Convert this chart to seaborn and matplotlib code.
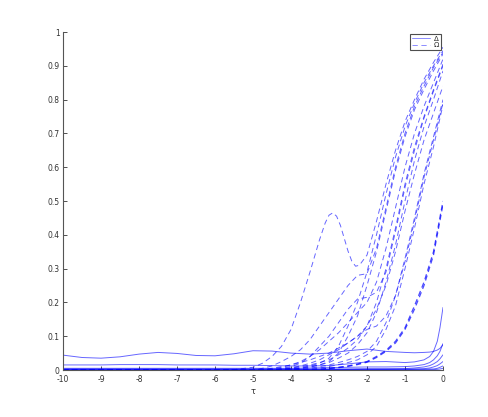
import matplotlib
matplotlib.use("Agg")
import matplotlib.pyplot as plt
from matplotlib.lines import Line2D
import seaborn as sns
import pandas as pd

# ---------------- data ----------------
TAU_D = [-10, -6, -5.5, -5, -4.75, -4.5, -4.25, -4, -3.75, -3.5, -3.25, -3,
         -2.75, -2.5, -2.25, -2, -1.75, -1.5, -1.25, -1, -0.75, -0.5, -0.25, 0]

TAU_P = [-10, -6, -5.5, -5, -4.75, -4.5, -4.25, -4, -3.75, -3.5, -3.25, -3.1,
         -3, -2.9, -2.8, -2.7, -2.6, -2.5, -2.4, -2.3, -2.2, -2, -1.75, -1.5,
         -1.25, -1, -0.75, -0.5, -0.25, 0]
OMEGA_P = [0, 0, 0.001, 0.008, 0.02, 0.04, 0.07, 0.12, 0.2, 0.29, 0.385, 0.435,
           0.458, 0.465, 0.455, 0.428, 0.39, 0.352, 0.322, 0.307, 0.31, 0.34,
           0.44, 0.55, 0.65, 0.735, 0.80, 0.86, 0.91, 0.955]

OMEGA_A2 = [0, 0, 0, 0, 0, 0.001, 0.002, 0.004, 0.007, 0.012, 0.02, 0.035,
            0.07, 0.13, 0.2, 0.29, 0.4, 0.52, 0.63, 0.72, 0.79, 0.85, 0.9, 0.945]
OMEGA_A3 = [0, 0, 0, 0, 0, 0, 0.001, 0.003, 0.005, 0.008, 0.015, 0.025,
            0.05, 0.1, 0.16, 0.25, 0.35, 0.47, 0.59, 0.69, 0.77, 0.83, 0.885, 0.935]
OMEGA_E = [0, 0, 0, 0, 0.005, 0.012, 0.025, 0.04, 0.06, 0.09, 0.13, 0.17,
           0.21, 0.25, 0.28, 0.285, 0.36, 0.48, 0.6, 0.7, 0.78, 0.84, 0.895, 0.94]
OMEGA_B1 = [0, 0, 0, 0, 0, 0, 0.002, 0.005, 0.01, 0.015, 0.022, 0.03,
            0.045, 0.065, 0.09, 0.13, 0.2, 0.3, 0.42, 0.55, 0.66, 0.75, 0.83, 0.905]
OMEGA_F = [0, 0, 0, 0, 0, 0, 0.005, 0.01, 0.02, 0.04, 0.07, 0.1,
           0.14, 0.18, 0.21, 0.215, 0.23, 0.29, 0.41, 0.54, 0.65, 0.745, 0.825, 0.9]
OMEGA_B2 = [0, 0, 0, 0, 0, 0, 0, 0.002, 0.005, 0.01, 0.015, 0.022,
            0.035, 0.05, 0.075, 0.11, 0.17, 0.26, 0.37, 0.5, 0.62, 0.72, 0.8, 0.885]
OMEGA_H = [0, 0, 0, 0, 0, 0.003, 0.008, 0.015, 0.025, 0.04, 0.06, 0.085,
           0.11, 0.14, 0.17, 0.2, 0.26, 0.36, 0.48, 0.6, 0.7, 0.78, 0.85, 0.92]
OMEGA_I = [0, 0, 0, 0, 0, 0, 0.003, 0.007, 0.012, 0.02, 0.03, 0.045,
           0.06, 0.08, 0.1, 0.13, 0.18, 0.25, 0.35, 0.47, 0.58, 0.68, 0.76, 0.84]
OMEGA_C1 = [0, 0, 0, 0, 0, 0, 0, 0, 0.002, 0.005, 0.01, 0.015,
            0.022, 0.03, 0.04, 0.055, 0.085, 0.14, 0.22, 0.33, 0.45, 0.58, 0.69, 0.8]
OMEGA_C2 = [0, 0, 0, 0, 0, 0, 0, 0, 0, 0.002, 0.006, 0.01,
            0.016, 0.022, 0.03, 0.045, 0.07, 0.12, 0.19, 0.3, 0.42, 0.55, 0.66, 0.785]
OMEGA_G = [0, 0, 0, 0, 0.002, 0.005, 0.01, 0.015, 0.022, 0.03, 0.04, 0.05,
           0.065, 0.08, 0.1, 0.12, 0.13, 0.16, 0.22, 0.32, 0.44, 0.57, 0.68, 0.79]
OMEGA_D1 = [0, 0, 0, 0, 0, 0, 0, 0, 0, 0, 0.002, 0.005,
            0.008, 0.012, 0.018, 0.025, 0.04, 0.058, 0.085, 0.125, 0.19, 0.26, 0.35, 0.5]
OMEGA_D2 = [0, 0, 0, 0, 0, 0, 0, 0, 0, 0, 0.001, 0.004,
            0.007, 0.011, 0.016, 0.023, 0.037, 0.055, 0.08, 0.12, 0.18, 0.25, 0.34, 0.49]

TAU_S = [-10, -9.5, -9, -8.5, -8, -7.5, -7, -6.5, -6, -5.5, -5, -4.5, -4, -3.5,
         -3, -2.5, -2, -1.5, -1, -0.75, -0.5, -0.35, -0.25, -0.15, -0.08, 0]

DELTA_1 = [0.044, 0.037, 0.035, 0.039, 0.047, 0.052, 0.049, 0.043, 0.042, 0.048,
           0.057, 0.056, 0.05, 0.047, 0.05, 0.057, 0.062, 0.055, 0.052, 0.051,
           0.052, 0.053, 0.055, 0.059, 0.064, 0.075]
DELTA_2 = [0.015, 0.015, 0.015, 0.016, 0.016, 0.016, 0.015, 0.015, 0.015, 0.014,
           0.014, 0.013, 0.012, 0.012, 0.013, 0.018, 0.024, 0.025, 0.022, 0.024,
           0.03, 0.04, 0.055, 0.085, 0.125, 0.185]
DELTA_3 = [0.005, 0.005, 0.005, 0.005, 0.005, 0.005, 0.005, 0.005, 0.005, 0.005,
           0.005, 0.005, 0.005, 0.006, 0.007, 0.008, 0.009, 0.009, 0.01, 0.012,
           0.016, 0.022, 0.03, 0.042, 0.055, 0.078]
DELTA_4 = [0.003, 0.003, 0.003, 0.003, 0.003, 0.003, 0.003, 0.003, 0.003, 0.003,
           0.003, 0.003, 0.003, 0.003, 0.003, 0.003, 0.004, 0.004, 0.004, 0.006,
           0.009, 0.013, 0.018, 0.025, 0.033, 0.045]
DELTA_5 = [0.002, 0.002, 0.002, 0.002, 0.002, 0.002, 0.002, 0.002, 0.002, 0.002,
           0.002, 0.002, 0.002, 0.002, 0.002, 0.002, 0.002, 0.002, 0.003, 0.003,
           0.004, 0.006, 0.009, 0.013, 0.018, 0.025]
DELTA_6 = [0.001, 0.001, 0.001, 0.001, 0.001, 0.001, 0.001, 0.001, 0.001, 0.001,
           0.001, 0.001, 0.001, 0.001, 0.001, 0.001, 0.001, 0.001, 0.001, 0.002,
           0.002, 0.003, 0.003, 0.005, 0.008, 0.012]
DELTA_7 = [0.0005, 0.0005, 0.0005, 0.0005, 0.0005, 0.0005, 0.0005, 0.0005, 0.0005,
           0.0005, 0.0005, 0.0005, 0.0005, 0.0005, 0.0005, 0.0005, 0.0005, 0.0005,
           0.0005, 0.0005, 0.0005, 0.001, 0.001, 0.002, 0.003, 0.005]

X_TICKS = [-10, -9, -8, -7, -6, -5, -4, -3, -2, -1, 0]
Y_TICKS = [0, 0.1, 0.2, 0.3, 0.4, 0.5, 0.6, 0.7, 0.8, 0.9, 1]
Y_TICK_LABELS = ["0", "0.1", "0.2", "0.3", "0.4", "0.5", "0.6", "0.7", "0.8", "0.9", "1"]
LEGEND_LABELS = ["Δ", "Ω"]

# ---------------- build long-form table ----------------
dashed = {"A2": OMEGA_A2, "A3": OMEGA_A3, "E": OMEGA_E,
          "B1": OMEGA_B1, "F": OMEGA_F, "B2": OMEGA_B2, "H": OMEGA_H,
          "I": OMEGA_I, "C1": OMEGA_C1, "C2": OMEGA_C2, "G": OMEGA_G}
bold = {"D1": OMEGA_D1, "D2": OMEGA_D2}
solid = {"S1": DELTA_1, "S2": DELTA_2, "S3": DELTA_3, "S4": DELTA_4,
         "S5": DELTA_5, "S6": DELTA_6, "S7": DELTA_7}

rows = [dict(tau=t, v=v, curve="P", kind="Ω") for t, v in zip(TAU_P, OMEGA_P)]
for name, vals in dashed.items():
    rows += [dict(tau=t, v=v, curve=name, kind="Ω") for t, v in zip(TAU_D, vals)]
for name, vals in solid.items():
    rows += [dict(tau=t, v=v, curve=name, kind="Δ") for t, v in zip(TAU_S, vals)]
df = pd.DataFrame(rows)
rows_b = []
for name, vals in bold.items():
    rows_b += [dict(tau=t, v=v, curve=name, kind="Ω") for t, v in zip(TAU_D, vals)]
df_b = pd.DataFrame(rows_b)

# ---------------- style ----------------
sns.set_style("ticks")
plt.rcParams["font.family"] = ["DejaVu Sans"]
plt.rcParams["lines.scale_dashes"] = False

DASH = (3.8, 2.6)
LINE_COLOR = (0.0, 0.0, 1.0)

fig = plt.figure(figsize=(4.89, 4.17), dpi=100)
ax = fig.add_axes([63 / 489, (417 - 370) / 417, (443 - 63) / 489, (370 - 32) / 417])

sns.lineplot(data=df, x="tau", y="v", units="curve", estimator=None, style="kind",
             dashes={"Δ": "", "Ω": DASH}, color=LINE_COLOR, lw=0.7, alpha=0.6,
             sort=False, legend=False, ax=ax)
sns.lineplot(data=df_b, x="tau", y="v", units="curve", estimator=None, style="kind",
             dashes={"Ω": DASH}, color=LINE_COLOR, lw=0.9, alpha=0.7,
             sort=False, legend=False, ax=ax)

ax.set_xlim(-10, 0)
ax.set_ylim(0, 1)
ax.set_xticks(X_TICKS)
ax.set_xticklabels([str(t) for t in X_TICKS])
ax.set_yticks(Y_TICKS)
ax.set_yticklabels(Y_TICK_LABELS)
ax.tick_params(direction="in", length=3, width=0.6, labelsize=5.5,
               colors="#333333")
ax.tick_params(axis="x", pad=3.5)
ax.tick_params(axis="y", pad=2.5)
for s in ["top", "right"]:
    ax.spines[s].set_visible(False)
for s in ["left", "bottom"]:
    ax.spines[s].set_linewidth(0.8)
    ax.spines[s].set_color("#555555")
ax.set_xlabel("τ", fontsize=6, color="#333333", labelpad=2)
ax.set_ylabel("")

handles = [Line2D([], [], color=LINE_COLOR, lw=0.7, alpha=0.45),
           Line2D([], [], color=LINE_COLOR, lw=0.7, alpha=0.45, dashes=DASH)]
leg = ax.legend(handles, LEGEND_LABELS, loc="upper right", fontsize=5,
                frameon=True, fancybox=False, handlelength=2.6,
                handletextpad=0.5, borderpad=0.3, labelspacing=0.05,
                borderaxespad=0.25)
leg.get_frame().set_edgecolor("#222222")
leg.get_frame().set_linewidth(0.8)

fig.savefig("out.png", dpi=100)
